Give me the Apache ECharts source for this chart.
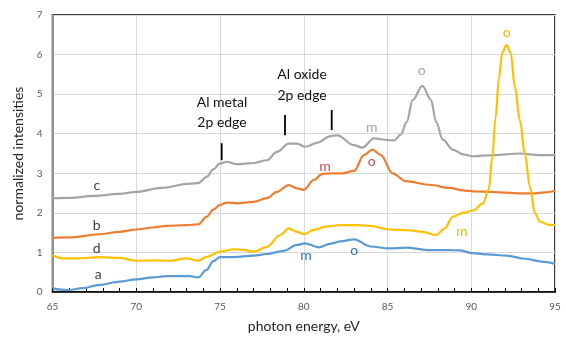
<!DOCTYPE html>
<html><head><meta charset="utf-8">
<script src="https://cdn.jsdelivr.net/npm/echarts@6/dist/echarts.min.js"></script>
<style>html,body{margin:0;padding:0;background:#fff}#c{width:566px;height:345px}</style>
</head><body><div id="c"></div>
<script>
// ---- data (photon energy eV, normalized intensity) ----
const aEnergy = [65.0,65.5,66.0,66.8,67.8,69.0,70.0,71.0,71.8,73.2,73.7,74.2,74.6,75.0,75.8,77.0,77.8,78.8,79.6,80.07,80.9,81.6,82.2,83.0,84.0,85.1,86.1,87.5,88.7,89.3,90.1,91.0,92.1,93.2,94.2,95.0];
const aValues = [0.09,0.06,0.05,0.10,0.18,0.26,0.32,0.37,0.40,0.40,0.37,0.56,0.78,0.88,0.88,0.92,0.96,1.04,1.19,1.23,1.13,1.22,1.28,1.33,1.15,1.10,1.12,1.06,1.06,1.05,0.98,0.95,0.92,0.84,0.77,0.71];

const bEnergy = [65.0,66.0,67.8,69.0,70.0,71.0,71.8,73.0,73.7,74.2,74.6,75.0,75.4,76.0,77.0,77.8,78.4,79.1,79.6,80.0,80.6,81.1,81.6,82.3,83.0,83.6,84.1,84.6,85.3,86.1,87.5,88.7,89.5,90.3,91.2,92.1,93.0,93.7,94.4,95.0];
const bValues = [1.37,1.38,1.46,1.52,1.58,1.63,1.67,1.69,1.71,1.90,2.08,2.20,2.26,2.24,2.28,2.37,2.53,2.70,2.62,2.58,2.83,2.98,3.00,3.00,3.06,3.46,3.60,3.46,3.00,2.80,2.71,2.63,2.57,2.54,2.53,2.51,2.49,2.49,2.52,2.56];

const cEnergy = [65.0,66.0,67.5,69.0,70.0,71.5,73.2,73.7,74.2,74.6,75.0,75.4,76.0,77.0,77.8,78.4,79.1,79.6,80.1,80.8,81.6,82.0,83.0,83.5,84.2,85.0,85.4,85.8,86.15,86.5,87.08,87.6,87.9,88.3,88.9,89.5,90.1,91.3,92.9,94.1,95.0];
const cValues = [2.37,2.38,2.43,2.48,2.53,2.63,2.74,2.75,2.91,3.10,3.25,3.29,3.23,3.26,3.33,3.54,3.75,3.75,3.67,3.77,3.94,3.96,3.71,3.65,3.88,3.84,3.83,3.98,4.30,4.85,5.21,4.85,4.30,3.85,3.60,3.48,3.43,3.46,3.50,3.46,3.46];

const dEnergy = [65.0,65.6,66.5,67.8,69.0,70.0,71.0,72.0,73.0,73.7,74.2,75.0,75.8,76.5,77.0,77.8,78.6,79.1,79.6,80.0,80.6,81.4,82.2,83.2,84.0,85.1,86.2,87.1,87.9,88.4,88.9,89.5,90.1,90.7,91.05,91.25,91.45,91.65,91.85,92.1,92.35,92.6,92.9,93.2,93.5,93.8,94.1,94.6,95.0];
const dValues = [0.93,0.85,0.85,0.88,0.86,0.79,0.80,0.79,0.85,0.79,0.89,1.02,1.08,1.06,1.02,1.14,1.44,1.61,1.52,1.46,1.57,1.66,1.69,1.69,1.67,1.58,1.56,1.52,1.44,1.60,1.90,2.00,2.06,2.24,2.60,3.40,4.40,5.40,6.05,6.24,6.05,5.19,4.34,3.50,2.66,1.99,1.78,1.70,1.69];

const xTicks = [65,70,75,80,85,90,95];
const yTicks = [0,1,2,3,4,5,6,7];

// text annotations [text, energy, intensity, color]
const curveLabels = [
  ['c',67.64,2.70,'#404040'],['b',67.64,1.69,'#404040'],['d',67.64,1.11,'#404040'],['a',67.73,0.43,'#404040'],
  ['m',84.06,4.17,'#a5a5a5'],['o',87.04,5.61,'#a5a5a5'],
  ['m',81.27,3.18,'#c0504d'],['o',84.06,3.29,'#c0504d'],
  ['o',92.12,6.57,'#f2b800'],['m',89.43,1.52,'#f2b800'],
  ['m',80.13,0.93,'#2e75b6'],['o',83.02,1.06,'#2e75b6']
];
const edgeTexts = [['Al metal',75.12,4.80],['2p edge',75.12,4.29],['Al oxide',79.9,5.49],['2p edge',79.9,4.97]];
const edgeMarks = [[75.1,3.33,3.76],[78.88,3.96,4.47],[81.67,4.09,4.60]];

const pair = (xs, ys) => xs.map((x,i)=>[x,ys[i]]);
const FONT = 'Lato, "Open Sans", sans-serif';
const chart = echarts.init(document.getElementById('c'), null, {renderer:'canvas'});
const mk = (name, xs, ys, color) => ({
  name, type:'line', data: pair(xs, ys), showSymbol:false, smooth:0.35, smoothMonotone:'x',
  lineStyle:{color, width:2.2}, itemStyle:{color}, z:3
});
chart.setOption({
  animation:false,
  textStyle:{fontFamily:FONT},
  grid:{left:52.5, right:11, top:15, bottom:53, show:true, borderColor:'#000', borderWidth:1.5, backgroundColor:'transparent'},
  xAxis:{type:'value', min:xTicks[0], max:xTicks[xTicks.length-1], interval:5,
    name:'photon energy, eV', nameLocation:'middle', nameGap:27,
    nameTextStyle:{fontSize:14, color:'#262626', fontFamily:FONT},
    axisLine:{show:true, lineStyle:{color:'#000', width:1.5}},
    axisTick:{show:true, inside:true, length:4, lineStyle:{color:'#000'}},
    minorTick:{show:true, splitNumber:5, length:4, lineStyle:{color:'#000'}},
    axisLabel:{fontSize:10, color:'#595959', margin:10, fontFamily:FONT},
    splitLine:{show:true, lineStyle:{color:'#d9d9d9', width:1}}
  },
  yAxis:{type:'value', min:yTicks[0], max:yTicks[yTicks.length-1], interval:1,
    name:'normalized intensities', nameLocation:'middle', nameGap:26,
    nameTextStyle:{fontSize:14, color:'#262626', fontFamily:FONT},
    axisLine:{show:true, lineStyle:{color:'#7f7f7f', width:1.5}},
    axisTick:{show:false},
    axisLabel:{fontSize:10, color:'#595959', margin:10, fontFamily:FONT},
    splitLine:{show:true, lineStyle:{color:'#d9d9d9', width:1}}
  },
  series:[
    mk('c', cEnergy, cValues, '#a5a5a5'),
    mk('b', bEnergy, bValues, '#ed7d31'),
    mk('d', dEnergy, dValues, '#ffc000'),
    mk('a', aEnergy, aValues, '#5b9bd5')
  ]
});
const P = (x,y) => chart.convertToPixel({gridIndex:0}, [x,y]);
const g = [];
curveLabels.forEach(([t,x,y,col])=>{
  const p = P(x,y);
  g.push({type:'text', x:p[0], y:p[1], z:10, style:{text:t, fill:col, font:'14px '+FONT, textAlign:'center', textVerticalAlign:'middle'}});
});
edgeTexts.forEach(([t,x,y])=>{
  const p = P(x,y);
  g.push({type:'text', x:p[0], y:p[1], z:10, style:{text:t, fill:'#111', font:'14px '+FONT, textAlign:'center', textVerticalAlign:'middle'}});
});
edgeMarks.forEach(([x,y0,y1])=>{
  const p0 = P(x,y0), p1 = P(x,y1);
  g.push({type:'line', z:10, shape:{x1:p0[0], y1:p0[1], x2:p1[0], y2:p1[1]}, style:{stroke:'#000', lineWidth:1.8}});
});
chart.setOption({graphic:g});
</script></body></html>
